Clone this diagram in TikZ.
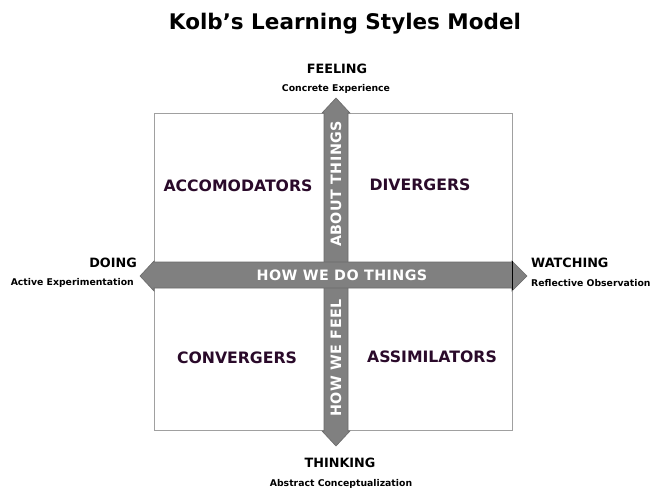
\documentclass[tikz,border=0pt]{standalone}
\usepackage{fontspec}
\setmainfont{DejaVu Sans}
\definecolor{arrowgray}{HTML}{808080}
\definecolor{arrowedge}{HTML}{6A6A6A}
\definecolor{boxgray}{HTML}{A0A0A0}
\definecolor{quadtext}{HTML}{2A0A2A}
\tikzset{
  arrowshape/.style={fill=arrowgray, draw=arrowedge, line width=0.6pt},
  quad/.style={font=\bfseries\fontsize{15.7}{18}\selectfont, text=quadtext, inner sep=0pt},
  pole/.style={font=\bfseries\fontsize{12.8}{15}\selectfont, inner sep=0pt},
  sub/.style={font=\bfseries\fontsize{9.3}{11}\selectfont, inner sep=0pt},
  band/.style={font=\bfseries\fontsize{14.3}{16}\selectfont\addfontfeature{LetterSpace=3}, text=white, inner sep=0pt},
}
\begin{document}
\begin{tikzpicture}[x=1pt,y=-1pt]
\useasboundingbox (0,0) rectangle (662,499);
\fill[white] (0,0) rectangle (662,499);
% frame
\draw[boxgray, line width=0.8pt] (154,113) rectangle (512,430);
% vertical arrow
\draw[arrowshape] (324,113) -- (322,113) -- (336,98) -- (350,113) -- (348,113) -- (348,431) -- (350,431) -- (336,446) -- (322,431) -- (324,431) -- cycle;
% horizontal arrow
\draw[arrowshape] (154,262) -- (154,261) -- (140,276) -- (154,291) -- (154,288) -- (512,288) -- (512,291) -- (527,276) -- (512,261) -- (512,262) -- cycle;
\draw[black, line width=0.8pt] (512,261) -- (512,290);
% band texts
\node[band] (do) at (342,275) {HOW WE DO THINGS};
\node[band, rotate=90] (about) at (336,184) {ABOUT THINGS};
\node[band, rotate=90] (feel) at (336,358) {HOW WE FEEL};
% title
\node[font=\bfseries\fontsize{21.5}{25}\selectfont, inner sep=0pt] (title) at (345,24) {Kolb’s Learning Styles Model};
% poles
\node[pole] (feeling) at (337,69) {FEELING};
\node[sub] (concrete) at (336,89) {Concrete Experience};
\node[pole, anchor=east] (doing) at (137,263) {DOING};
\node[sub, anchor=east] (active) at (134,283) {Active Experimentation};
\node[pole, anchor=west] (watching) at (531,263) {WATCHING};
\node[sub, anchor=west] (reflective) at (531,283) {Reflective Observation};
\node[pole] (thinking) at (340,463) {THINKING};
\node[sub] (abstract) at (341,484) {Abstract Conceptualization};
% quadrants
\node[quad] (acc) at (238,186) {ACCOMODATORS};
\node[quad] (div) at (420,185) {DIVERGERS};
\node[quad] (conv) at (237,358) {CONVERGERS};
\node[quad] (assim) at (432,357) {ASSIMILATORS};
\end{tikzpicture}
\end{document}
